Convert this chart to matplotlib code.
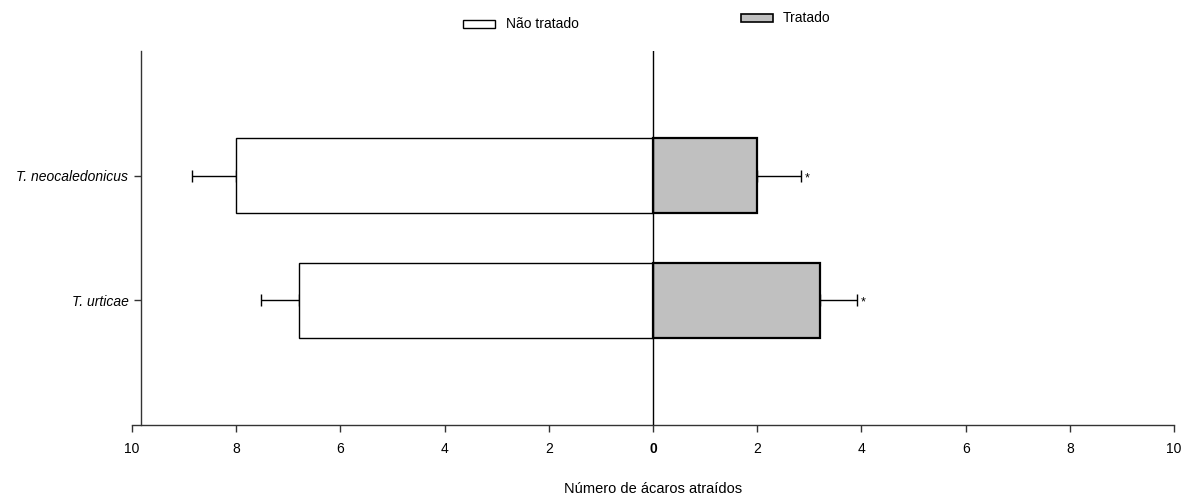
from matplotlib import pyplot as plt
from matplotlib.patches import Rectangle
import numpy

plt.rcParams['font.family'] = ['Liberation Sans', 'DejaVu Sans']

# data
species = ['T. urticae', 'T. neocaledonicus']
untreated = [6.8, 8.0]
untreated_err = [0.73, 0.84]
treated = [3.2, 2.0]
treated_err = [0.71, 0.83]
xticks = [-10, -8, -6, -4, -2, 0, 2, 4, 6, 8, 10]
xticklabels = ['10', '8', '6', '4', '2', '0', '2', '4', '6', '8', '10']

grey = '#c0c0c0'


def main():

    fig = plt.figure(figsize=(11.95, 4.97), dpi=100)
    ax = fig.add_axes([0.1105, 0.1449, 0.872, 0.7525])

    ypos = numpy.arange(1, len(species) + 1)
    neg = -numpy.array(untreated)
    pos = numpy.array(treated)

    ax.barh(ypos, neg, height=0.6, color='white',
            edgecolor='black', linewidth=1.0, zorder=2)
    ax.barh(ypos, pos, height=0.6, color=grey,
            edgecolor='black', linewidth=1.6, zorder=2)

    # one sided error bars
    ax.errorbar(neg, ypos,
                xerr=[untreated_err, numpy.zeros(len(species))],
                fmt='none', ecolor='black', elinewidth=1.0,
                capsize=4.5, capthick=1.0, zorder=1)
    ax.errorbar(pos, ypos,
                xerr=[numpy.zeros(len(species)), treated_err],
                fmt='none', ecolor='black', elinewidth=1.0,
                capsize=4.5, capthick=1.0, zorder=1)

    for y, v, e in zip(ypos, pos, treated_err):
        ax.text(v + e + 0.08, y - 0.02, '*', fontsize=9,
                ha='left', va='center')

    ax.axvline(0, color='black', linewidth=1.0, zorder=3)

    ax.set_xlim(-10, 10)
    ax.set_ylim(0, 3)

    ax.spines['top'].set_visible(False)
    ax.spines['right'].set_visible(False)
    ax.spines['left'].set_position(('data', -9.83))
    for s in ('left', 'bottom'):
        ax.spines[s].set_linewidth(1.0)
        ax.spines[s].set_color('#333333')

    ax.set_xticks(xticks)
    ax.set_xticklabels(xticklabels, fontsize=10)
    ax.get_xticklabels()[5].set_fontweight('bold')
    ax.set_yticks(ypos)
    ax.set_yticklabels(species, fontsize=10, style='italic')
    ax.tick_params(axis='both', direction='out', length=5, width=1.0,
                   color='#333333')
    ax.tick_params(axis='x', pad=7)
    ax.tick_params(axis='y', pad=4)

    fig.text(0.5464, 0.003, 'Número de ácaros atraídos', fontsize=10.5,
             ha='center', va='bottom')

    # legend drawn by hand, the two entries sit at different heights
    fig.patches.append(Rectangle((0.3875, 0.944), 0.027, 0.016,
                                 transform=fig.transFigure,
                                 facecolor='white', edgecolor='black',
                                 linewidth=1.0))
    fig.text(0.4235, 0.952, 'Não tratado', fontsize=10,
             ha='left', va='center')
    fig.patches.append(Rectangle((0.62, 0.956), 0.027, 0.016,
                                 transform=fig.transFigure,
                                 facecolor=grey, edgecolor='black',
                                 linewidth=1.2))
    fig.text(0.655, 0.964, 'Tratado', fontsize=10,
             ha='left', va='center')

    fig.savefig('out.png', dpi=100)


if __name__ == '__main__':
    main()
